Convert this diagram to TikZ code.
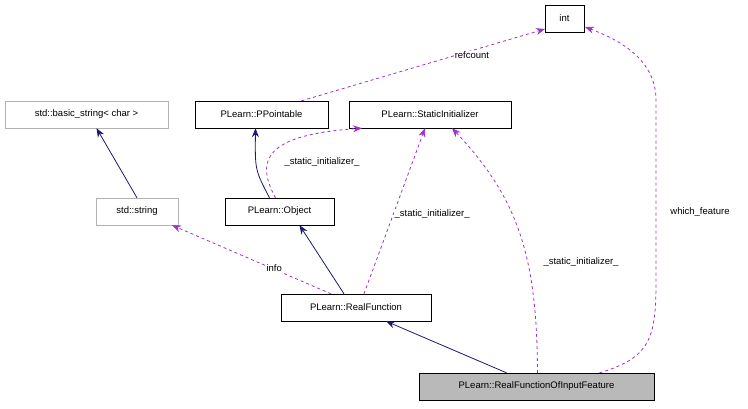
\documentclass[tikz,border=0pt]{standalone}
\usepackage{fontspec}
\setmainfont{Liberation Sans}
\usetikzlibrary{arrows.meta,calc}
\definecolor{navy}{RGB}{25,25,112}
\definecolor{purp}{RGB}{154,50,205}
\begin{document}
\begin{tikzpicture}[x=1pt,y=-1pt,
  box/.style={draw=black,fill=white,minimum height=27pt,inner xsep=5pt,font=\fontsize{9.5}{11}\selectfont},
  gbox/.style={box,draw=gray!60},
  inh/.style={draw=navy,-{Stealth[length=9pt,width=7pt]},thick},
  use/.style={draw=purp,dashed,-{Stealth[length=9pt,width=7pt]},thick},
  lab/.style={font=\fontsize{9.5}{11}\selectfont,fill=white,inner sep=1pt}]
\useasboundingbox (0,0) rectangle (748,408);
\node[box,minimum width=39pt] (int) at (564.5,18.5) {int};
\node[gbox,minimum width=163pt] (bs) at (86.5,114.5) {std::basic\_string< char >};
\node[box,minimum width=133pt] (pp) at (261.5,114.5) {PLearn::PPointable};
\node[box,minimum width=162pt] (si) at (430,114.5) {PLearn::StaticInitializer};
\node[gbox,minimum width=82pt] (str) at (137,211.5) {std::string};
\node[box,minimum width=109pt] (obj) at (279.5,211.5) {PLearn::Object};
\node[box,minimum width=150pt] (rf) at (356,307.5) {PLearn::RealFunction};
\node[box,fill=gray!55,minimum width=235pt] (rfo) at (536.5,386.5) {PLearn::RealFunctionOfInputFeature};
\draw[use] ($(pp.north)+(40,0)$) -- (545,29) node[lab,pos=0.7,below] {refcount};
\draw[inh] (str.north) -- ($(bs.south)+(10,0)$);
\draw[inh] ($(obj.north)-(10,0)$) .. controls (255,170) .. ($(pp.south)-(6,0)$);
\draw[use] ($(obj.north)-(4,0)$) .. controls (255,160) and (265,135) .. ($(si.south)-(68,0)$);
\node[lab] at (322,162) {\_static\_initializer\_};
\draw[inh] ($(rf.north)-(12,0)$) -- ($(obj.south)+(20,0)$);
\draw[use] ($(rf.north)+(8,0)$) -- ($(si.south)-(5,0)$) node[lab,pos=0.48,right] {\_static\_initializer\_};
\draw[use] ($(rf.north)-(25,0)$) -- ($(str.south)+(35,0)$) node[lab,pos=0.3,above left] {info};
\draw[inh] ($(rfo.north)-(30,0)$) -- ($(rf.south)+(30,0)$);
\draw[use] ($(rfo.north)+(1,0)$) .. controls (537,260) and (520,200) .. ($(si.south)+(22,0)$);
\node[lab] at (581,262) {\_static\_initializer\_};
\draw[use] ($(rfo.north)+(63,0)$) .. controls (660,355) and (656,330) .. (656,250) -- (656,100) .. controls (656,60) and (620,40) .. (585,27);
\node[lab] at (700,212) {which\_feature};
\end{tikzpicture}
\end{document}
